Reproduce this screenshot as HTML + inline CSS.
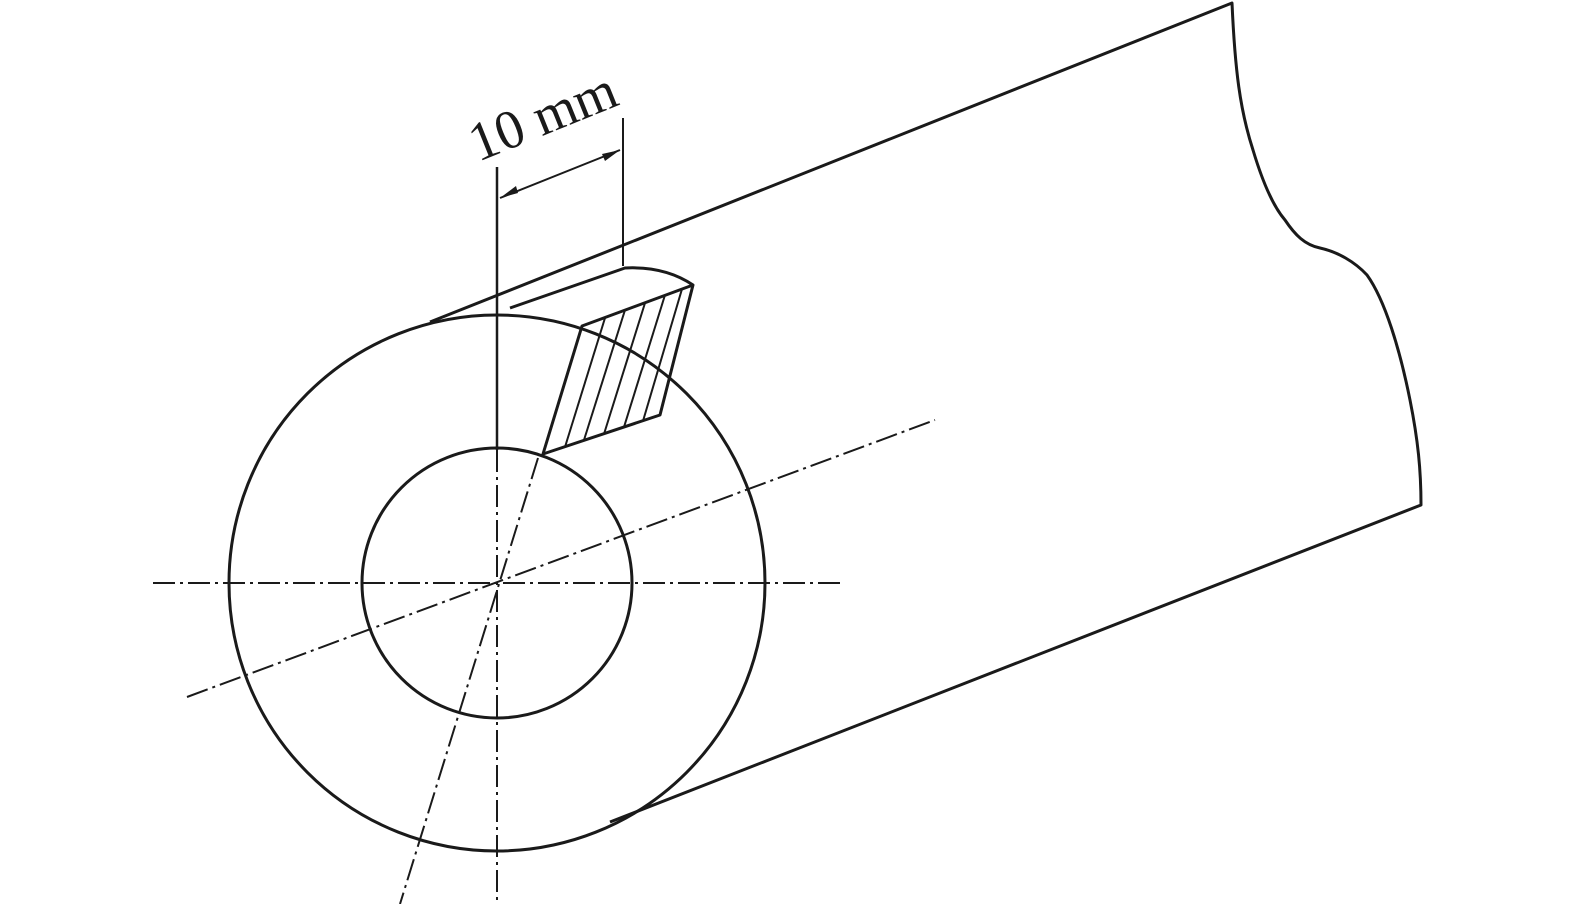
<!DOCTYPE html>
<html><head><style>html,body{margin:0;padding:0;background:#fff}svg{display:block}</style></head>
<body>
<svg width="1575" height="904" viewBox="0 0 1575 904" xmlns="http://www.w3.org/2000/svg">
<g fill="none" stroke="#1a1a1a" stroke-width="3" stroke-linejoin="round">
  <path d="M430,322 L1232,3 C1235,70 1240,110 1253,150 C1262,180 1272,205 1285,220 C1295,235 1305,245 1320,248 C1338,252 1355,262 1367,275 C1385,300 1400,350 1410,400 C1418,440 1421,470 1421,505 L610,822"/>
  <circle cx="497" cy="583" r="268"/>
  <circle cx="497" cy="583" r="135"/>
  <path d="M510,308 L625,268 Q665,266 693,285 L660,415 L543,454 L582,326 L693,285"/>
</g>
<g stroke="#1a1a1a" stroke-width="2" fill="none">
  <line x1="605" y1="318" x2="565" y2="447"/>
  <line x1="625" y1="310" x2="584" y2="440"/>
  <line x1="645" y1="303" x2="604" y2="434"/>
  <line x1="665" y1="295" x2="624" y2="427"/>
  <line x1="682" y1="289" x2="643" y2="421"/>
  <line x1="497" y1="167" x2="497" y2="450" stroke-width="2.5"/>
  <line x1="623" y1="118" x2="623" y2="266"/>
  <line x1="500" y1="198" x2="620" y2="150"/>
</g>
<path d="M500,198 L516,186 L518,193 Z" fill="#1a1a1a"/>
<path d="M620,150 L602,154 L605,161 Z" fill="#1a1a1a"/>
<g stroke="#1a1a1a" stroke-width="2" fill="none" stroke-dasharray="22,5,3,5">
  <line x1="153" y1="583" x2="845" y2="583"/>
  <line x1="497" y1="450" x2="497" y2="904"/>
  <line x1="187" y1="697" x2="935" y2="420"/>
  <line x1="538" y1="458" x2="400" y2="904"/>
</g>
<text x="0" y="0" transform="translate(478,162) rotate(-22)" font-family="Liberation Serif, serif" font-size="55" fill="#1a1a1a">10 mm</text>
</svg>
</body></html>
